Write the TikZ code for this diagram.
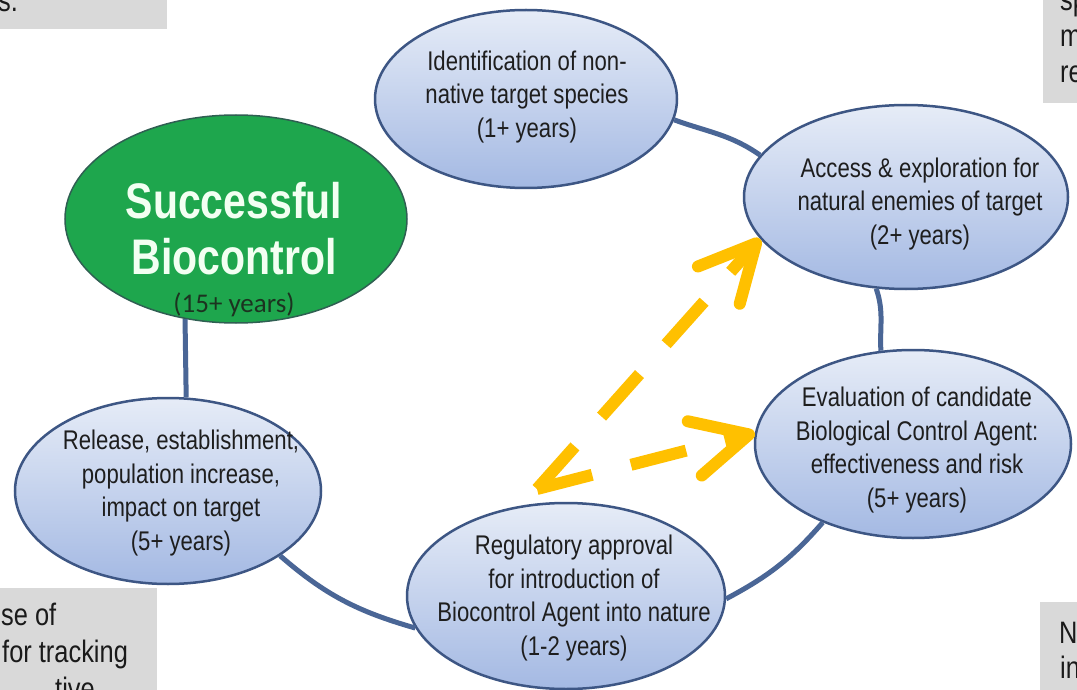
\documentclass[tikz,border=0pt]{standalone}
\usepackage{fontspec}
\setmainfont{Liberation Sans}
\newfontfamily\narrowsans[FakeStretch=0.82]{Liberation Sans}
\newfontfamily\calsans{Carlito}
\usepackage{tikz}
\usetikzlibrary{shapes.geometric,arrows.meta}
\definecolor{ringblue}{HTML}{4A6696}
\definecolor{edgeblue}{HTML}{3D5684}
\definecolor{stagetop}{HTML}{E6ECF7}
\definecolor{stagebot}{HTML}{A4B9E3}
\definecolor{goalgreen}{HTML}{1EA64D}
\definecolor{goaledge}{HTML}{2F5F52}
\definecolor{goaltext}{HTML}{F2FFF2}
\definecolor{goalsub}{HTML}{1C3320}
\definecolor{stagetext}{HTML}{1E1E1E}
\definecolor{flowgold}{HTML}{FFC000}
\definecolor{boxgrey}{HTML}{D9D9D9}
\definecolor{boxtext}{HTML}{1A1A1A}
\tikzset{
  stage/.style={ellipse, draw=edgeblue, line width=2.5pt, top color=stagetop, bottom color=stagebot, inner sep=0pt},
  goal/.style={ellipse, draw=goaledge, line width=1.5pt, fill=goalgreen, inner sep=0pt},
  stagetxt/.style={align=center, text=stagetext, inner sep=0pt, font=\narrowsans\fontsize{27}{33.5}\selectfont},
  goaltxt/.style={align=center, text=goaltext, inner sep=0pt, font=\narrowsans\bfseries\fontsize{50}{56}\selectfont},
  ring/.style={draw=ringblue, line width=5pt},
  flow/.style={draw=flowgold, line width=12pt, dash pattern=on 57pt off 40pt, -{Straight Barb[length=56pt, width=56pt, round]}},
  greybox/.style={fill=boxgrey},
  boxtxt/.style={text=boxtext, inner sep=0pt, anchor=base west, font=\narrowsans\fontsize{31}{36}\selectfont},
}

\begin{document}
\begin{tikzpicture}[x=1pt,y=-1pt]
  \useasboundingbox (0,0) rectangle (1077,690);
  \clip (0,0) rectangle (1077,690);
  \fill[white] (0,0) rectangle (1077,690);

  % cut-off side boxes
  \fill[greybox] (0,0) rectangle (167,29);
  \fill[greybox] (1043,0) rectangle (1077,103);
  \fill[greybox] (0,588) rectangle (157,690);
  \fill[greybox] (1040,602) rectangle (1077,690);
  \node[boxtxt] (tl-a) at (-2,12) {s.};
  \node[boxtxt] (tr-a) at (1060,11) {sp};
  \node[boxtxt] (tr-b) at (1060,47) {m};
  \node[boxtxt] (tr-c) at (1060,83) {re};
  \node[boxtxt] (bl-a) at (1,625) {se of};
  \node[boxtxt] (bl-b) at (2,662) {for tracking};
  \node[boxtxt] (bl-c) at (55,699) {tive};
  \node[boxtxt] (br-a) at (1059,643) {N};
  \node[boxtxt] (br-b) at (1060,678) {in};

  % ellipses
  \node[goal, minimum width=342pt, minimum height=208pt] (goal) at (236,219) {};
  \node[stage, minimum width=302pt, minimum height=178pt] (ident) at (526,99) {};
  \node[stage, minimum width=324pt, minimum height=184pt] (access) at (906,197) {};
  \node[stage, minimum width=316pt, minimum height=188pt] (eval) at (913,444) {};
  \node[stage, minimum width=318pt, minimum height=186pt] (reg) at (566,596) {};
  \node[stage, minimum width=306pt, minimum height=186pt] (release) at (168,491) {};

  % ring between the stages
  \draw[ring] (goal.243) -- (release.79);
  \draw[ring] (ident.-8) to[out=-20,in=145] (access.164);
  \draw[ring] (access.252) to[out=-71,in=93] (eval.109);
  \draw[ring] (eval.221) to[out=229,in=28] (reg.-1);
  \draw[ring] (reg.192) to[out=164,in=-41] (release.-30);

  % texts
  \node[goaltxt] (goal-t) at (234,250) {Successful\\Biocontrol\\[-18pt]{\calsans\mdseries\color{goalsub}\fontsize{27}{36}\selectfont (15+ years)}};
  \node[stagetxt] (ident-t) at (527,97) {Identification of non-\\native target species\\(1+ years)};
  \node[stagetxt] (access-t) at (920,204) {Access \& exploration for\\natural enemies of target\\(2+ years)};
  \node[stagetxt] (eval-t) at (917,450) {Evaluation of candidate\\Biological Control Agent:\\effectiveness and risk\\(5+ years)};
  \node[stagetxt] (reg-t) at (574,598) {Regulatory approval\\for introduction of\\Biocontrol Agent into nature\\(1-2 years)};
  \node[stagetxt] (release-t) at (181,493) {Release, establishment,\\population increase,\\impact on target\\(5+ years)};

  % dashed feedback arrows
  \coordinate (fork) at (537,489);
  \draw[flow] (fork) -- (access.196);
  \draw[flow] (fork) -- (eval.176);
\end{tikzpicture}
\end{document}
